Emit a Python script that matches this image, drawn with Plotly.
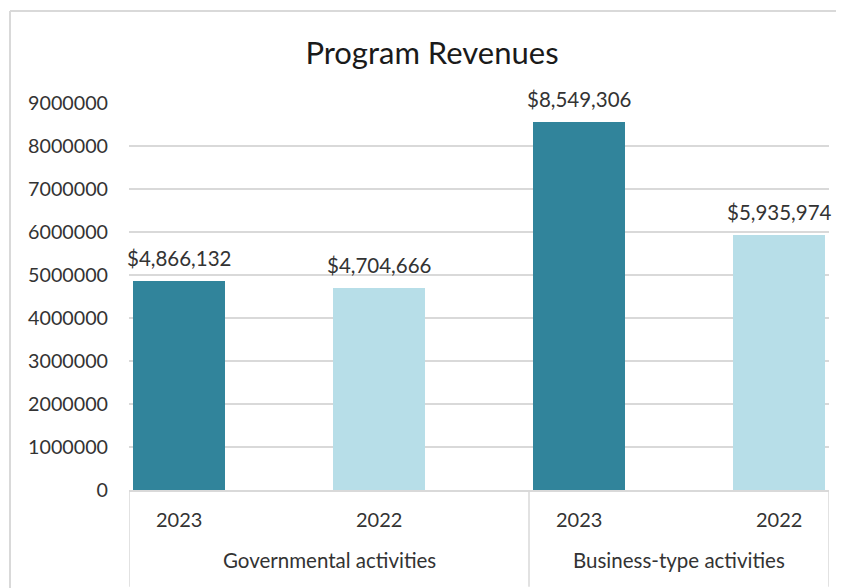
import plotly.graph_objects as go

groups = ["Governmental activities", "Governmental activities", "Business-type activities", "Business-type activities"]
years = ["2023", "2022", "2023", "2022"]
values = [4866132, 4704666, 8549306, 5935974]
year_colors = {"2023": "#31849B", "2022": "#B7DEE8"}
y_ticks = [0, 1000000, 2000000, 3000000, 4000000, 5000000, 6000000, 7000000, 8000000, 9000000]

FONT = "Lato"
TXT = "#333333"
OFF = 8  # page body margin offset
W, H = 844 - OFF, 588 - OFF

xs = list(range(len(values)))

fig = go.Figure()
fig.add_trace(go.Bar(
    x=xs, y=values, width=0.46,
    marker=dict(color=[year_colors[y] for y in years], line=dict(width=0)),
    hoverinfo="skip", showlegend=False,
))

annotations = []
# data labels
for x, v in zip(xs, values):
    annotations.append(dict(x=x, y=v, xref="x", yref="y", text=f"${v:,}",
                            showarrow=False, yanchor="middle", yshift=23,
                            font=dict(family=FONT, size=20.5, color=TXT)))
# year labels
for x, yr in zip(xs, years):
    annotations.append(dict(x=x, y=-0.075, xref="x", yref="paper", text=yr,
                            showarrow=False, yanchor="middle",
                            font=dict(family=FONT, size=20, color=TXT)))
# group labels
uniq = []
for g in groups:
    if g not in uniq:
        uniq.append(g)
bounds = [-0.25]
for g in uniq:
    idx = [i for i, gg in enumerate(groups) if gg == g]
    bounds.append(idx[-1] + 0.75 if g != uniq[-1] else idx[-1] + 0.25)
for i, g in enumerate(uniq):
    annotations.append(dict(x=(bounds[i] + bounds[i + 1]) / 2, y=-0.181, xref="x", yref="paper",
                            text=g, showarrow=False, yanchor="middle",
                            font=dict(family=FONT, size=20.5, color=TXT)))

shapes = []
for b in bounds:
    shapes.append(dict(type="line", xref="x", yref="paper", x0=b, x1=b, y0=0, y1=-0.25,
                       line=dict(color="#D9D9D9", width=1.5)))
# chart border (top and left edges; right and bottom lie outside the view)
shapes.append(dict(type="line", xref="paper", yref="paper", x0=-0.17, x1=1.2, y0=1.2377, y1=1.2377,
                   line=dict(color="#D9D9D9", width=2), layer="below"))
shapes.append(dict(type="line", xref="paper", yref="paper", x0=-0.17, x1=-0.17, y0=-0.4, y1=1.2377,
                   line=dict(color="#D9D9D9", width=2), layer="below"))

fig.update_layout(
    width=W, height=H,
    margin=dict(l=129 - OFF, r=W - (829 - OFF), t=103 - OFF, b=H - (490 - OFF)),
    paper_bgcolor="white", plot_bgcolor="white",
    title=dict(text="Program Revenues", x=(432 - OFF) / W, xanchor="center", y=1 - (53 - OFF) / H,
               yanchor="middle", font=dict(family=FONT, size=31, color="#1a1a1a")),
    xaxis=dict(range=[-0.25, 3.25], showticklabels=False, showgrid=False, zeroline=False,
               showline=True, linecolor="#D9D9D9", linewidth=1.5, ticks=""),
    yaxis=dict(range=[0, 9000000], tickvals=y_ticks, tickformat="d", showgrid=True,
               gridcolor="#D9D9D9", gridwidth=1.5, zeroline=False, showline=False, ticks="",
               ticklabelstandoff=20, tickfont=dict(family=FONT, size=19.7, color=TXT)),
    annotations=annotations, shapes=shapes, bargap=0,
)

fig.write_html("out.html",
               post_script="document.documentElement.style.overflow='hidden';document.body.style.overflow='hidden';")
